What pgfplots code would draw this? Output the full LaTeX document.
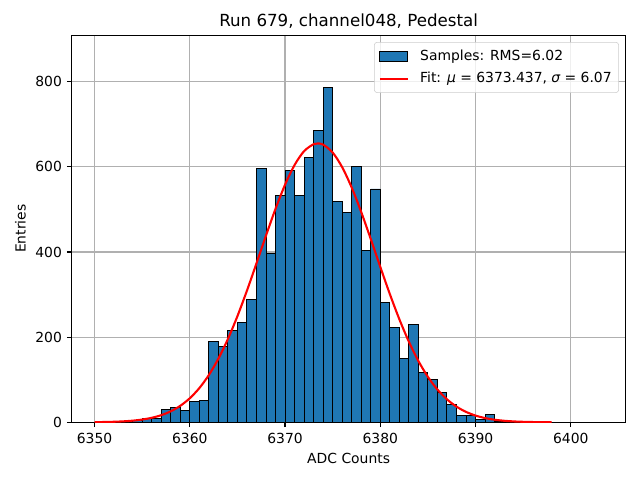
\documentclass[border=0pt]{standalone}
\usepackage{fontspec}
\setmainfont{DejaVu Sans}
\usepackage{pgfplots}
\pgfplotsset{compat=1.18}
\definecolor{c0}{HTML}{1F77B4}
\definecolor{gridgray}{HTML}{B0B0B0}
\definecolor{legedge}{HTML}{CCCCCC}
\begin{document}
\begin{tikzpicture}
\begin{axis}[
  at={(0pt,0pt)}, anchor=south west,
  scale only axis, width=398.7pt, height=278.6pt,
  xmin=6347.6, xmax=6405.75, ymin=0, ymax=909,
  xtick={6350,6360,6370,6380,6390,6400},
  ytick={0,200,400,600,800},
  grid=major, grid style={color=gridgray, line width=0.8pt},
  tick pos=left, tick align=outside, major tick length=3.5pt,
  every tick/.style={black, line width=0.8pt},
  axis line style={line width=0.8pt},
  /pgf/number format/assume math mode=true,
  /pgf/number format/1000 sep={},
  ticklabel style={font=\fontsize{10}{12}\selectfont},
  xticklabel style={yshift=-1pt},
  xlabel={ADC Counts}, ylabel={Entries},
  label style={font=\fontsize{10}{12}\selectfont},
  title={Run 679, channel048, Pedestal},
  title style={font=\fontsize{12}{14}\selectfont, anchor=base},
  legend style={at={(0.988,0.9826)}, anchor=north east,
    draw=legedge, fill=white, fill opacity=0.8, draw opacity=1, text opacity=1,
    rounded corners=2pt, font=\fontsize{10}{12}\selectfont,
    inner xsep=3pt, inner ysep=3.5pt, row sep=3pt},
  legend cell align=left,
]
\addplot[ybar interval, fill=c0, draw=black, line width=0.7pt,
  legend image code/.code={\path[draw=none,fill=none] (-1pt,0pt) rectangle (27pt,0pt);
    \draw[sharp corners, fill opacity=1, fill=c0, draw=black, line width=0.6pt] (0pt,-3.5pt) rectangle (20pt,3.5pt);}]
coordinates {
(6353,1) (6354,4) (6355,10) (6356,9) (6357,30) (6358,35) (6359,28)
(6360,49) (6361,52) (6362,190) (6363,179) (6364,215) (6365,234) (6366,288)
(6367,596) (6368,396) (6369,533) (6370,591) (6371,533) (6372,622) (6373,685)
(6374,787) (6375,518) (6376,493) (6377,601) (6378,404) (6379,548) (6380,282)
(6381,223) (6382,150) (6383,230) (6384,117) (6385,101) (6386,71) (6387,42)
(6388,15) (6389,17) (6390,7) (6391,18) (6392,1) (6393,1)
};
\addlegendentry{Samples: RMS=6.02}
\addplot[red, line width=1.5pt, smooth, no markers,
  legend image code/.code={\path[draw=none,fill=none] (-1pt,0pt) rectangle (27pt,0pt);
    \draw[sharp corners, red, line width=1.5pt] (0pt,0pt) -- (20pt,0pt);}]
coordinates {
(6350,0.38) (6351,0.71) (6352,1.28) (6353,2.26) (6354,3.89) (6355,6.50)
(6356,10.58) (6357,16.75) (6358,25.81) (6359,38.73) (6360,56.51) (6361,80.29)
(6362,111.0) (6363,149.4) (6364,195.6) (6365,249.3) (6366,309.2) (6367,373.3)
(6368,438.5) (6369,501.4) (6370,558.0) (6371,604.3) (6372,636.9) (6373,653.3)
(6373.437,655.0) (6374,652.2) (6375,633.6) (6376,599.1) (6377,551.3) (6378,493.8)
(6379,430.4) (6380,365.1) (6381,301.4) (6382,242.2) (6383,189.4) (6384,144.1)
(6385,106.7) (6386,76.93) (6387,53.97) (6388,36.85) (6389,24.49) (6390,15.83)
(6391,9.96) (6392,6.10) (6393,3.64) (6394,2.11) (6395,1.19) (6396,0.65)
(6397,0.35) (6398,0.18)
};
\addlegendentry{Fit: {\itshape μ} = 6373.437, {\itshape σ} = 6.07}
\end{axis}
\pgfresetboundingbox
\path[use as bounding box] (-51.6pt,-41.5pt) rectangle (409.1pt,304pt);
\end{tikzpicture}
\end{document}
